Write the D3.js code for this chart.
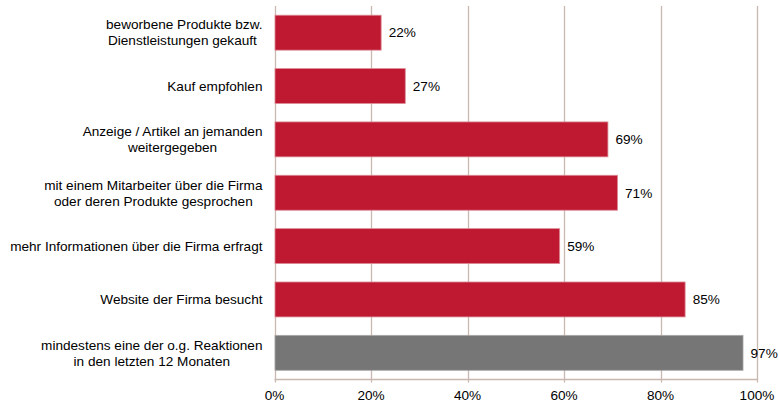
<!DOCTYPE html>
<html><head><meta charset="utf-8">
<script src="https://cdn.jsdelivr.net/npm/d3@7"></script>
<style>body{margin:0;background:#fff}svg text{font-family:"Liberation Sans",Arial,sans-serif;fill:#000}</style>
</head><body><svg id="c" width="779" height="404"></svg>
<script>
const categories = [
  ["beworbene Produkte bzw.", "Dienstleistungen gekauft "],
  ["Kauf empfohlen"],
  ["Anzeige / Artikel an jemanden", "weitergegeben"],
  ["mit einem Mitarbeiter über die Firma", "oder deren Produkte gesprochen"],
  ["mehr Informationen über die Firma erfragt"],
  ["Website der Firma besucht"],
  ["mindestens eine der o.g. Reaktionen", "in den letzten 12 Monaten"]
];
const values = [22, 27, 69, 71, 59, 85, 97];
const highlight = [false, false, false, false, false, false, true];
const xTicks = [0, 20, 40, 60, 80, 100];

const svg = d3.select("#c");
const fs = 13.6;
const m = {left: 274.5, right: 757, top: 6, bottom: 379.5};
const x = d3.scaleLinear().domain([0, 100]).range([m.left, m.right]);
const y = d3.scaleBand().domain(d3.range(values.length)).range([m.top, m.bottom]).paddingInner(0.345).paddingOuter(0.1725);
const grid = "#c9b8b0";

svg.append("g").selectAll("line").data(xTicks).join("line")
  .attr("x1", d => Math.round(x(d)) + 0.5).attr("x2", d => Math.round(x(d)) + 0.5)
  .attr("y1", m.top).attr("y2", m.bottom + 3)
  .attr("stroke", grid).attr("stroke-width", 1.3);
svg.append("line").attr("x1", m.left).attr("x2", m.right + 0.5)
  .attr("y1", m.bottom).attr("y2", m.bottom).attr("stroke", grid).attr("stroke-width", 1.3);

svg.append("g").selectAll("rect").data(values).join("rect")
  .attr("x", x(0) + 0.5).attr("y", (d, i) => y(i))
  .attr("width", d => x(d) - x(0)).attr("height", y.bandwidth())
  .attr("fill", (d, i) => highlight[i] ? "#767676" : "#be1931")
  .attr("stroke", (d, i) => highlight[i] ? "#a8a8a8" : "#dc8d98").attr("stroke-width", 0.8);

svg.append("g").selectAll("text").data(values).join("text")
  .attr("x", d => x(d) + 8).attr("y", (d, i) => y(i) + y.bandwidth() / 2)
  .attr("dy", "0.35em").attr("font-size", fs).text(d => d + "%");

svg.append("g").selectAll("text").data(xTicks).join("text")
  .attr("x", d => x(d)).attr("y", 395).attr("dy", "0.35em")
  .attr("text-anchor", "middle").attr("font-size", fs).text(d => d + "%");

const lh = 16;
categories.forEach((lines, i) => {
  const g = svg.append("g");
  const cy = y(i) + y.bandwidth() / 2;
  const ts = lines.map((l, k) => g.append("text")
    .attr("y", cy + (k - (lines.length - 1) / 2) * lh).attr("dy", "0.35em")
    .attr("text-anchor", "middle").attr("font-size", fs).attr("xml:space", "preserve").text(l));
  const w = d3.max(ts, t => t.node().getComputedTextLength());
  ts.forEach(t => t.attr("x", 262.5 - w / 2));
});
</script></body></html>
